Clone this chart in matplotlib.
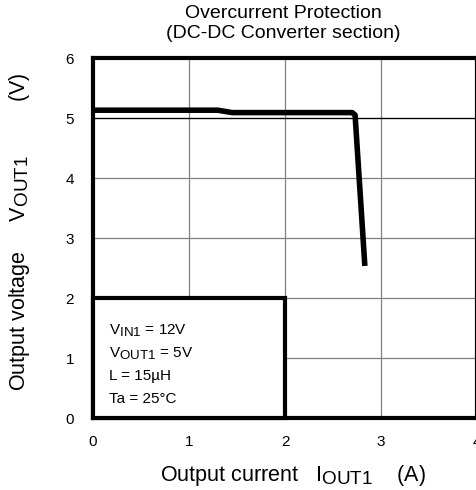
import matplotlib
matplotlib.use("Agg")
import matplotlib.pyplot as plt
from matplotlib.patches import Rectangle
import matplotlib._mathtext as _mt

_mt.SHRINK_FACTOR = 0.88

plt.rcParams['font.family'] = ['Liberation Sans', 'DejaVu Sans']
plt.rcParams['mathtext.fontset'] = 'custom'
plt.rcParams['mathtext.rm'] = 'Liberation Sans'
plt.rcParams['mathtext.it'] = 'Liberation Sans'

current = [0.0, 1.30, 1.45, 2.70, 2.73, 2.83]
voltage = [5.13, 5.13, 5.09, 5.09, 5.05, 2.58]
x_ticks = [0, 1, 2, 3, 4]
y_ticks = [0, 1, 2, 3, 4, 5, 6]
cond_lines = [r"V$_{\mathrm{IN1}}$ = 12V", r"V$_{\mathrm{OUT1}}$ = 5V",
              "L = 15\u00b5H", "Ta = 25\u00b0C"]

W, H = 476, 490
fig = plt.figure(figsize=(4.76, 4.90), dpi=100)
ax = fig.add_axes([93/W, 1-418/H, (477-93)/W, (418-58)/H])
ax.set_xlim(0, 4)
ax.set_ylim(0, 6)
ax.set_xticks(x_ticks)
ax.set_yticks(y_ticks)
ax.grid(True, color='#808080', linewidth=0.9)
ax.axhline(5, color='black', linewidth=0.9, zorder=2)
for s in ax.spines.values():
    s.set_linewidth(3)
ax.tick_params(length=0, labelsize=11, pad=13.5)
ax.tick_params(axis='x', pad=12)
ax.plot(current, voltage, color='black', linewidth=4, solid_joinstyle='round', zorder=5)

ax.add_patch(Rectangle((0, 0), 2, 2, facecolor='white', edgecolor='black',
                       linewidth=3, zorder=6, clip_on=False))
for i, t in enumerate(cond_lines):
    ax.text(0.17, 1.45 - i*0.375, t, fontsize=11, zorder=7, va='center')

fig.text(292.5/W, 1-481/H, r"Output current   I$_{\mathrm{OUT1}}$    (A)",
         fontsize=15.5, ha='center', va='baseline')
fig.text(25/W, 1-231.5/H, r"Output voltage     V$_{\mathrm{OUT1}}$         (V)",
         fontsize=15.5, ha='center', va='baseline', rotation=90, rotation_mode='anchor')
fig.text(0.595, 1-14/H, "Overcurrent Protection", ha='center', va='center', fontsize=14)
fig.text(0.595, 1-34/H, "(DC-DC Converter section)", ha='center', va='center', fontsize=14)

fig.savefig("out.png", dpi=100)
